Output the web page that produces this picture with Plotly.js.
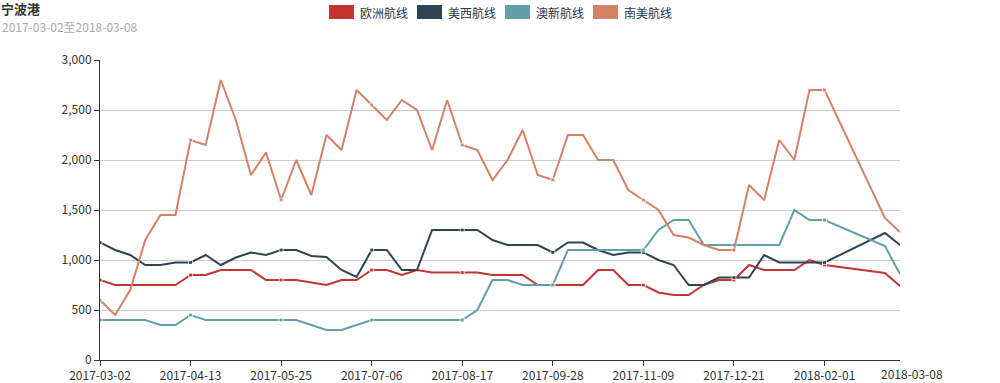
<!DOCTYPE html>
<html>
<head>
<meta charset="utf-8">
<script src="https://cdn.plot.ly/plotly-3.0.1.min.js"></script>
<style>html,body{margin:0;padding:0;background:#fff;}#chart{width:1000px;height:383px;}</style>
</head>
<body>
<div id="chart"></div>
<script>
const dates = [
  "2017-03-02","2017-03-09","2017-03-16","2017-03-23","2017-03-30","2017-04-06",
  "2017-04-13","2017-04-20","2017-04-27","2017-05-04","2017-05-11","2017-05-18",
  "2017-05-25","2017-06-01","2017-06-08","2017-06-15","2017-06-22","2017-06-29",
  "2017-07-06","2017-07-13","2017-07-20","2017-07-27","2017-08-03","2017-08-10",
  "2017-08-17","2017-08-24","2017-08-31","2017-09-07","2017-09-14","2017-09-21",
  "2017-09-28","2017-10-05","2017-10-12","2017-10-19","2017-10-26","2017-11-02",
  "2017-11-09","2017-11-16","2017-11-23","2017-11-30","2017-12-07","2017-12-14",
  "2017-12-21","2017-12-28","2018-01-04","2018-01-11","2018-01-18","2018-01-25",
  "2018-02-01","2018-02-08","2018-02-15","2018-02-22","2018-03-01","2018-03-08"
];
const seriesNames = ["欧洲航线", "美西航线", "澳新航线", "南美航线"];
const europe = [
  800,750,750,750,750,750, 850,850,900,900,900,800, 800,800,775,750,800,800,
  900,900,850,900,875,875, 875,875,850,850,850,750, 750,750,750,900,900,750,
  750,675,650,650,750,800, 800,950,900,900,900,1000, 950,null,null,null,870,740
];
const usWest = [
  1175,1100,1050,950,950,975, 975,1050,950,1025,1075,1050, 1100,1100,1040,1030,900,830,
  1100,1100,900,900,1300,1300, 1300,1300,1200,1150,1150,1150, 1075,1175,1175,1100,1050,1075,
  1075,1000,950,750,750,825, 825,825,1050,975,975,975, 975,null,null,null,1270,1150
];
const auNz = [
  400,400,400,400,350,350, 450,400,400,400,400,400, 400,400,350,300,300,350,
  400,400,400,400,400,400, 400,500,800,800,750,750, 750,1100,1100,1100,1100,1100,
  1100,1300,1400,1400,1150,1150, 1150,1150,1150,1150,1500,1400, 1400,null,null,null,1140,860
];
const southAm = [
  600,450,700,1200,1450,1450, 2200,2150,2800,2400,1850,2075, 1600,2000,1650,2250,2100,2700,
  2550,2400,2600,2500,2100,2600, 2150,2100,1800,2000,2300,1850, 1800,2250,2250,2000,2000,1700,
  1600,1500,1250,1225,1150,1100, 1100,1750,1600,2200,2000,2700, 2700,null,null,null,1420,1280
];
const tickDates = ["2017-03-02","2017-04-13","2017-05-25","2017-07-06","2017-08-17","2017-09-28","2017-11-09","2017-12-21","2018-02-01"];
const lastTick = "2018-03-08";
const titleText = "宁波港";
const subtitleText = "2017-03-02至2018-03-08";
const colors = ["#c23531", "#2f4554", "#61a0a8", "#d48265"];
const allSeries = [europe, usWest, auNz, southAm];

const markerSizes = dates.map((d, i) => (i % 6 === 0 ? 4 : 0));

const traces = allSeries.map((ys, k) => ({
  type: "scatter",
  mode: "lines+markers",
  name: seriesNames[k],
  x: dates,
  y: ys,
  connectgaps: true,
  line: {color: colors[k], width: 2},
  marker: {color: colors[k], size: markerSizes, symbol: "square"},
  showlegend: false,
  hoverinfo: "skip"
}));

const font = "'Noto Sans CJK SC', 'Noto Sans', sans-serif";
const L = 100, T = 60, W = 800, H = 300;
const px = x => (x - L) / W;
const py = y => (T + H - y) / H;

const annotations = [
  {text: titleText, xref: "paper", yref: "paper", x: px(0), y: py(8), xanchor: "left", yanchor: "middle",
   borderpad: 0, showarrow: false, font: {family: font, size: 13, color: "#333", weight: "bold"}},
  {text: subtitleText, xref: "paper", yref: "paper", x: px(0), y: py(27), xanchor: "left", yanchor: "middle",
   showarrow: false, font: {family: font, size: 12, color: "#aaa"}},
  {text: lastTick, xref: "paper", yref: "paper", x: px(912), y: py(373), xanchor: "center", yanchor: "middle",
   showarrow: false, font: {family: font, size: 12, color: "#333"}}
];
const shapes = [];
const legendX = [329, 417, 505, 593];
seriesNames.forEach((n, k) => {
  shapes.push({type: "rect", xref: "paper", yref: "paper",
    x0: px(legendX[k]), x1: px(legendX[k] + 25), y0: py(19), y1: py(5),
    fillcolor: colors[k], line: {width: 0}});
  annotations.push({text: n, xref: "paper", yref: "paper", x: px(legendX[k] + 29), y: py(12),
    xanchor: "left", yanchor: "middle", showarrow: false,
    font: {family: font, size: 12, color: "#333"}});
});

const layout = {
  width: 1000, height: 383,
  margin: {l: L, r: 100, t: T, b: 23, pad: 0},
  paper_bgcolor: "#fff", plot_bgcolor: "#fff",
  font: {family: font, size: 12, color: "#333"},
  showlegend: false,
  hovermode: false,
  xaxis: {
    type: "date",
    range: [dates[0], dates[dates.length - 1]],
    tickvals: tickDates, ticktext: tickDates,
    showline: true, linecolor: "#333", linewidth: 1,
    ticks: "outside", ticklen: 5, tickcolor: "#333", tickwidth: 1,
    showgrid: false, zeroline: false,
    tickfont: {family: font, size: 12, color: "#333"}
  },
  yaxis: {
    range: [0, 3000], tickmode: "linear", tick0: 0, dtick: 500,
    tickformat: ",d",
    showline: true, linecolor: "#333", linewidth: 1,
    ticks: "outside", ticklen: 5, tickcolor: "#333", tickwidth: 1,
    showgrid: true, gridcolor: "#ccc", gridwidth: 1, zeroline: false,
    tickfont: {family: font, size: 12, color: "#333"}
  },
  annotations: annotations,
  shapes: shapes
};

Plotly.newPlot("chart", traces, layout, {staticPlot: true, displayModeBar: false});
</script>
</body>
</html>
